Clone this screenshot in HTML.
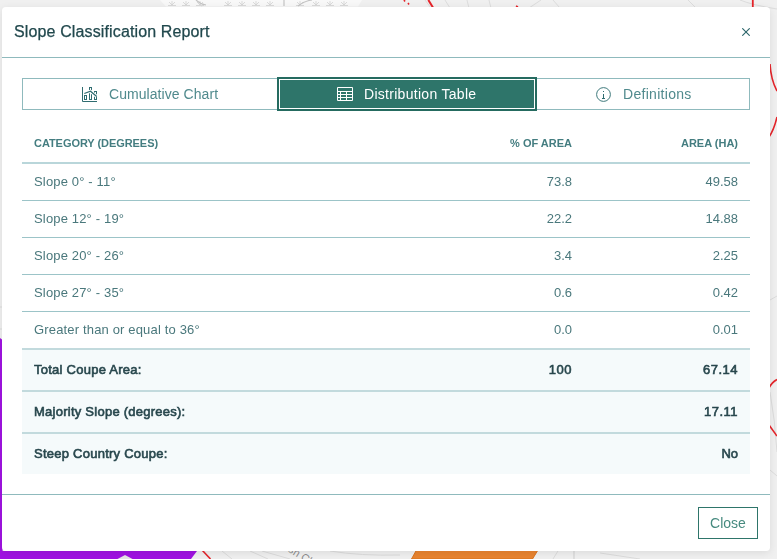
<!DOCTYPE html>
<html lang="en">
<head>
<meta charset="utf-8">
<title>Slope Classification Report</title>
<style>
*{box-sizing:border-box;margin:0;padding:0}
html,body{width:777px;height:559px;overflow:hidden}
body{position:relative;background:#efefef;font-family:"Liberation Sans",Arial,sans-serif;color:#3d6e73}
#map{position:absolute;left:0;top:0;width:777px;height:559px}
#modal{will-change:transform;position:absolute;left:2px;top:7px;width:768px;height:544px;background:#fff;border-radius:4px;box-shadow:0 2px 9px rgba(0,0,0,.09)}
#hdr{position:absolute;left:0;top:0;width:768px;height:51px;border-bottom:1px solid #8fbabd}
#hdr h1{position:absolute;left:12px;top:15px;font-size:16px;line-height:20px;font-weight:400;color:#21484d;white-space:nowrap;letter-spacing:.13px;-webkit-text-stroke:.25px #21484d}
#x{position:absolute;left:740px;top:21px;width:8px;height:8px}
#tabs{position:absolute;left:20px;top:71px;width:728px;height:32px;border:1px solid #8fbabd}
.tab{position:absolute;top:1px;height:28px;font-size:14px;line-height:28px;color:#508a8d;white-space:nowrap}
.tab svg{position:absolute}
.tab span{position:absolute;top:0}
#t2{left:257px;width:254px;background:#2e756a;color:#fff;outline:2px solid #256b60;outline-offset:1px}
#tbl{position:absolute;left:20px;top:117px;width:728px;font-size:13px}
.r{position:relative;width:728px;white-space:nowrap}
.r span{position:absolute;top:0}
.r .a{left:12px}
.th .a{letter-spacing:-.06px}
.tr .a{letter-spacing:.16px}
.tf .a{letter-spacing:.25px}
.tf .b{letter-spacing:.5px;right:177.5px}
.tf .c{letter-spacing:.5px;right:11.5px}
.r .b{right:178px}
.r .c{right:12px}
.th{height:40px;line-height:38px;border-bottom:2px solid #b9d6da;font-size:11px;font-weight:700;color:#447d80}
.tr{height:37px;line-height:36px;border-bottom:1px solid #9cc4c8;color:#4a787c}
.tr.last{height:36px;border-bottom:none}
.tf{height:42px;line-height:40px;border-top:2px solid #c2dadd;background:#f5fafb;font-weight:400;color:#28474d;-webkit-text-stroke:.6px #28474d}
#ftr{position:absolute;left:0;top:487px;width:768px;height:57px;border-top:1px solid #8fbabd}
#close{position:absolute;left:696px;top:12px;width:60px;height:32px;border:1px solid #2e756a;font-size:14px;line-height:30px;text-align:center;color:#468a7f;background:#fff}
</style>
</head>
<body>
<svg id="map" viewBox="0 0 777 559">
<rect width="777" height="559" fill="#f0f0f0"/>
<g fill="none" stroke="#dcdcdc" stroke-width="1">
<path d="M196 0 L203 8"/><path d="M425 0 L431 8"/><path d="M445 0 L450 8"/><path d="M467 0 L469 8"/><path d="M489 0 L491 8"/><path d="M541 0 L529 8"/><path d="M553 0 L560 8"/><path d="M688 0 L696 8"/><path d="M740 0 Q752 5 777 9"/>
<path d="M0 307 H3"/><path d="M0 329 H3"/>
<path d="M770 300 L777 296"/><path d="M770 392 Q775 420 777 452"/><path d="M770 470 L777 476"/>
<path d="M222 551 L232 559"/><path d="M250 551 L268 559"/><path d="M262 551 L290 559"/><path d="M330 551 Q360 556 400 555"/><path d="M553 559 L558 551"/><path d="M574 551 V559" stroke="#cfcfcf"/><path d="M600 553 L640 559"/>
</g>
<path d="M160 0 H362 L358 6.5 H166 Z" fill="#f8f8f8"/><g fill="none" stroke="#d2d2d2" stroke-width=".8"><path d="M172 5 v-4 M172 5 l-3 -3 M172 5 l3 -3 M168 5.5 h8"/><path d="M186 5 v-4 M186 5 l-3 -3 M186 5 l3 -3 M182 5.5 h8"/><path d="M200 5 v-4 M200 5 l-3 -3 M200 5 l3 -3 M196 5.5 h8"/><path d="M228 5 v-4 M228 5 l-3 -3 M228 5 l3 -3 M224 5.5 h8"/><path d="M242 5 v-4 M242 5 l-3 -3 M242 5 l3 -3 M238 5.5 h8"/><path d="M256 5 v-4 M256 5 l-3 -3 M256 5 l3 -3 M252 5.5 h8"/><path d="M270 5 v-4 M270 5 l-3 -3 M270 5 l3 -3 M266 5.5 h8"/><path d="M300 5 v-4 M300 5 l-3 -3 M300 5 l3 -3 M296 5.5 h8"/><path d="M316 5 v-4 M316 5 l-3 -3 M316 5 l3 -3 M312 5.5 h8"/><path d="M330 5 v-4 M330 5 l-3 -3 M330 5 l3 -3 M326 5.5 h8"/><path d="M344 5 v-4 M344 5 l-3 -3 M344 5 l3 -3 M340 5.5 h8"/><path d="M196 0 Q200 4 206 5 M284 0 V6 M298 6 Q304 1 312 0" stroke="#c4c4c4" stroke-width="1.2"/></g>
<g fill="none" stroke="#e5242a" stroke-width="1.6">
<path d="M428.3 0 L433 7.5" stroke-width="2"/><path d="M752.8 0 V8" stroke-width="1.8"/><path d="M404 0 L405 1.5 M408 3 L409 4.5 M516 6 L518 7"/>
<path d="M770 64 Q771 80 777 91"/><path d="M777 117 Q774 130 769 137"/>
<path d="M769 388 Q772 382 777 379.5"/><path d="M769 425 L777 436"/>
<path d="M202 550 L210.5 559"/>
</g>
<path d="M0 338 L2.6 340 V551 H197 L191 559 H0 Z" fill="#a012e2"/>
<path d="M125 555 L132.5 559 H117.5 Z" fill="#e6e6e6"/>
<path d="M416.5 550 H538 L532.5 559 H411.5 Z" fill="#e9842f" stroke="#d9731f" stroke-width="1"/>
<text x="271.5" y="541.3" font-family="Liberation Sans, sans-serif" font-size="11" fill="#8c8c8c" transform="rotate(32 271.5 541.3)">Marsh Ck</text>
</svg>
<div id="modal">
  <div id="hdr"><h1>Slope Classification Report</h1>
    <svg id="x" viewBox="0 0 8 8"><path d="M.3 .3 L7.7 7.7 M7.7 .3 L.3 7.7" stroke="#2a6469" stroke-width="1.1" fill="none"/></svg>
  </div>
  <div id="tabs">
    <div class="tab" id="t1" style="left:1px;width:254px">
      <svg style="left:58px;top:6px" width="16" height="16" viewBox="0 0 16 16" fill="none" stroke="#2f6c70"><path d="M.5 1 V15.5 H15"/><rect x="2.5" y="9.5" width="2" height="4"/><rect x="7.5" y="1.5" width="2" height="12"/><rect x="12.5" y="5.5" width="2" height="8"/><path d="M2.3 7.5 L8.5 5.2 L14.7 10.4" stroke="#fff" stroke-width="3.2"/><path d="M2.3 7.5 L8.5 5.2 L14.7 10.4" stroke-width="1.25"/></svg>
      <span style="left:85px;letter-spacing:.06px">Cumulative Chart</span></div>
    <div class="tab" id="t2">
      <svg style="left:57px;top:7px" width="16" height="14" viewBox="0 0 16 14" fill="none" stroke="#fff"><path d="M.5 .5 H15.5 V13.5 H.5 Z M0 4.5 H16 M0 7.5 H16 M0 10.5 H16 M3.5 4.5 V13.5 M9.5 4.5 V13.5"/></svg>
      <span style="left:84px;letter-spacing:.29px">Distribution Table</span></div>
    <div class="tab" id="t3" style="left:513px;width:213px">
      <svg style="left:60px;top:7px" width="15" height="15" viewBox="0 0 15 15"><circle cx="7.5" cy="7.5" r="6.9" stroke="#3f7a7c" fill="none"/><path d="M7 4 h1 v1 h-1z M7 7 h1 v4 h1 v1 h-3 v-1 h1z" fill="#2f6c70"/></svg>
      <span style="left:87px;letter-spacing:.3px">Definitions</span></div>
  </div>
  <div id="tbl">
    <div class="r th"><span class="a">CATEGORY (DEGREES)</span><span class="b">% OF AREA</span><span class="c">AREA (HA)</span></div>
    <div class="r tr"><span class="a">Slope 0° - 11°</span><span class="b">73.8</span><span class="c">49.58</span></div>
    <div class="r tr"><span class="a">Slope 12° - 19°</span><span class="b">22.2</span><span class="c">14.88</span></div>
    <div class="r tr"><span class="a">Slope 20° - 26°</span><span class="b">3.4</span><span class="c">2.25</span></div>
    <div class="r tr"><span class="a">Slope 27° - 35°</span><span class="b">0.6</span><span class="c">0.42</span></div>
    <div class="r tr last"><span class="a">Greater than or equal to 36°</span><span class="b">0.0</span><span class="c">0.01</span></div>
    <div class="r tf"><span class="a">Total Coupe Area:</span><span class="b">100</span><span class="c">67.14</span></div>
    <div class="r tf"><span class="a">Majority Slope (degrees):</span><span class="c">17.11</span></div>
    <div class="r tf"><span class="a">Steep Country Coupe:</span><span class="c" style="letter-spacing:0;right:12px">No</span></div>
  </div>
  <div id="ftr"><div id="close">Close</div></div>
</div>
</body>
</html>
